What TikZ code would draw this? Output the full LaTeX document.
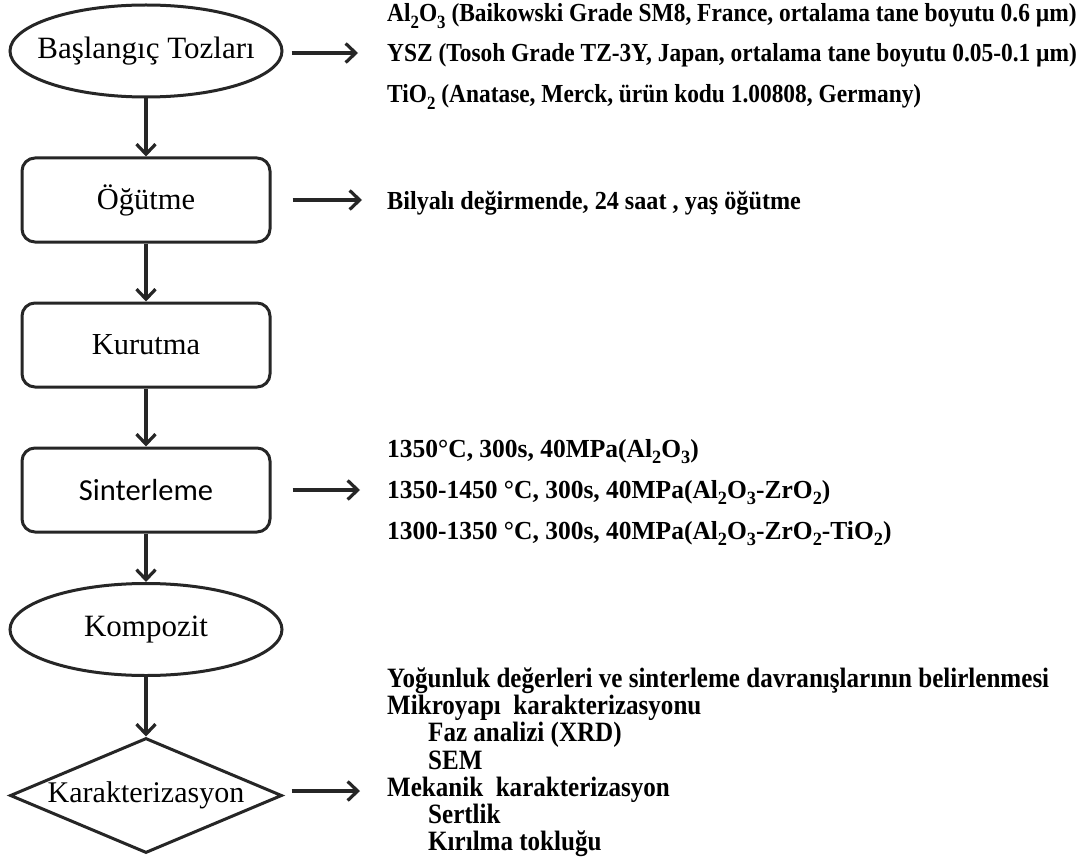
\documentclass[tikz,border=0pt]{standalone}
\usepackage{fontspec}
\usepackage{graphicx}
\setmainfont{Liberation Serif}
\newfontfamily\calibrifont{Carlito}
\newfontfamily\topfont{Liberation Serif}[FakeStretch=0.90]
\newfontfamily\midfont{Liberation Serif}[FakeStretch=0.93]
\newfontfamily\sinfont{Liberation Serif}[FakeStretch=0.98]
\newfontfamily\botfont{Liberation Serif}[FakeStretch=0.895]
\usetikzlibrary{shapes.geometric,arrows.meta}
\definecolor{lc}{HTML}{262626}
\newcommand\sbs[1]{\raisebox{-0.24em}{\scalebox{0.72}{#1}}}
\newcommand\zbox[1]{\makebox[0pt][c]{#1}}
\begin{document}
\begin{tikzpicture}[x=1pt,y=-1pt,
  shapeline/.style={draw=lc, line width=3pt},
  arr/.style={draw=lc, line width=3.2pt, -{Straight Barb[length=10pt,width=19pt]}},
  ell/.style={shapeline, ellipse, minimum width=272pt, minimum height=92pt, inner sep=0pt, font=\fontsize{31}{34}\selectfont},
  rbox/.style={shapeline, rectangle, rounded corners=13pt, minimum width=248pt, minimum height=84pt, inner sep=0pt, font=\fontsize{30.5}{34}\selectfont},
  dia/.style={shapeline, diamond, aspect=2.37, minimum width=272pt, minimum height=115pt, inner sep=0pt, font=\fontsize{30}{34}\selectfont},
  toptxt/.style={anchor=base west, inner sep=0pt, font=\topfont\bfseries\fontsize{26}{30}\selectfont},
  midtxt/.style={anchor=base west, inner sep=0pt, font=\midfont\bfseries\fontsize{26}{30}\selectfont},
  sintxt/.style={anchor=base west, inner sep=0pt, font=\sinfont\bfseries\fontsize{26}{30}\selectfont},
  bottxt/.style={anchor=base west, inner sep=0pt, font=\botfont\bfseries\fontsize{28}{30}\selectfont}
]
\path[use as bounding box, fill=white] (0,0) rectangle (1089,861);

% main flow
\node[ell]  (e1) at (146,51)    {\zbox{Başlangıç Tozları}};
\node[rbox] (b1) at (146,200)   {Öğütme};
\node[rbox] (b2) at (146,345)   {Kurutma};
\node[rbox] (b3) at (146,490)   {\calibrifont Sinterleme};
\node[ell]  (e2) at (146,629.5) {\zbox{Kompozit}};
\node[dia]  (d1) at (146,795.5) {\zbox{Karakterizasyon}};

\draw[arr] (e1.south) -- (b1.north);
\draw[arr] (b1.south) -- (b2.north);
\draw[arr] (b2.south) -- (b3.north);
\draw[arr] (b3.south) -- (e2.north);
\draw[arr] (e2.south) -- (d1.north);

% arrow tips
\coordinate (p1) at (358,53);
\coordinate (p2) at (362,200);
\coordinate (p3) at (360,490);
\coordinate (p4) at (360,791);
\draw[arr] ([xshift=8pt]e1.east |- p1) -- (p1);
\draw[arr] ([xshift=21pt]b1.east) -- (p2);
\draw[arr] ([xshift=21pt]b3.east) -- (p3);
\draw[arr] ([xshift=8pt]d1.east |- p4) -- (p4);

% texts
\node[toptxt] (t1) at (387,22)  {Al\sbs{2}O\sbs{3} (Baikowski Grade SM8, France, ortalama tane boyutu 0.6 µm)};
\node[toptxt] (t2) at (387,62)  {YSZ (Tosoh Grade TZ-3Y, Japan, ortalama tane boyutu 0.05-0.1 µm)};
\node[toptxt] (t3) at (387,103) {TiO\sbs{2} (Anatase, Merck, ürün kodu 1.00808, Germany)};

\node[midtxt] (m1) at (387,209) {Bilyalı değirmende, 24 saat , yaş öğütme};

\node[sintxt] (s1) at (387,457) {1350°C, 300s, 40MPa(Al\sbs{2}O\sbs{3})};
\node[sintxt] (s2) at (387,498) {1350-1450 °C, 300s, 40MPa(Al\sbs{2}O\sbs{3}-ZrO\sbs{2})};
\node[sintxt] (s3) at (387,539) {1300-1350 °C, 300s, 40MPa(Al\sbs{2}O\sbs{3}-ZrO\sbs{2}-TiO\sbs{2})};

\node[bottxt] (k1) at (387,687) {Yoğunluk değerleri ve sinterleme davranışlarının belirlenmesi};
\node[bottxt] (k2) at (387,714) {Mikroyapı\ \ karakterizasyonu};
\node[bottxt] (k3) at (428,741) {Faz analizi (XRD)};
\node[bottxt] (k4) at (428,769) {SEM};
\node[bottxt] (k5) at (387,796) {Mekanik\ \ karakterizasyon};
\node[bottxt] (k6) at (428,823) {Sertlik};
\node[bottxt] (k7) at (428,850) {Kırılma tokluğu};
\end{tikzpicture}
\end{document}
